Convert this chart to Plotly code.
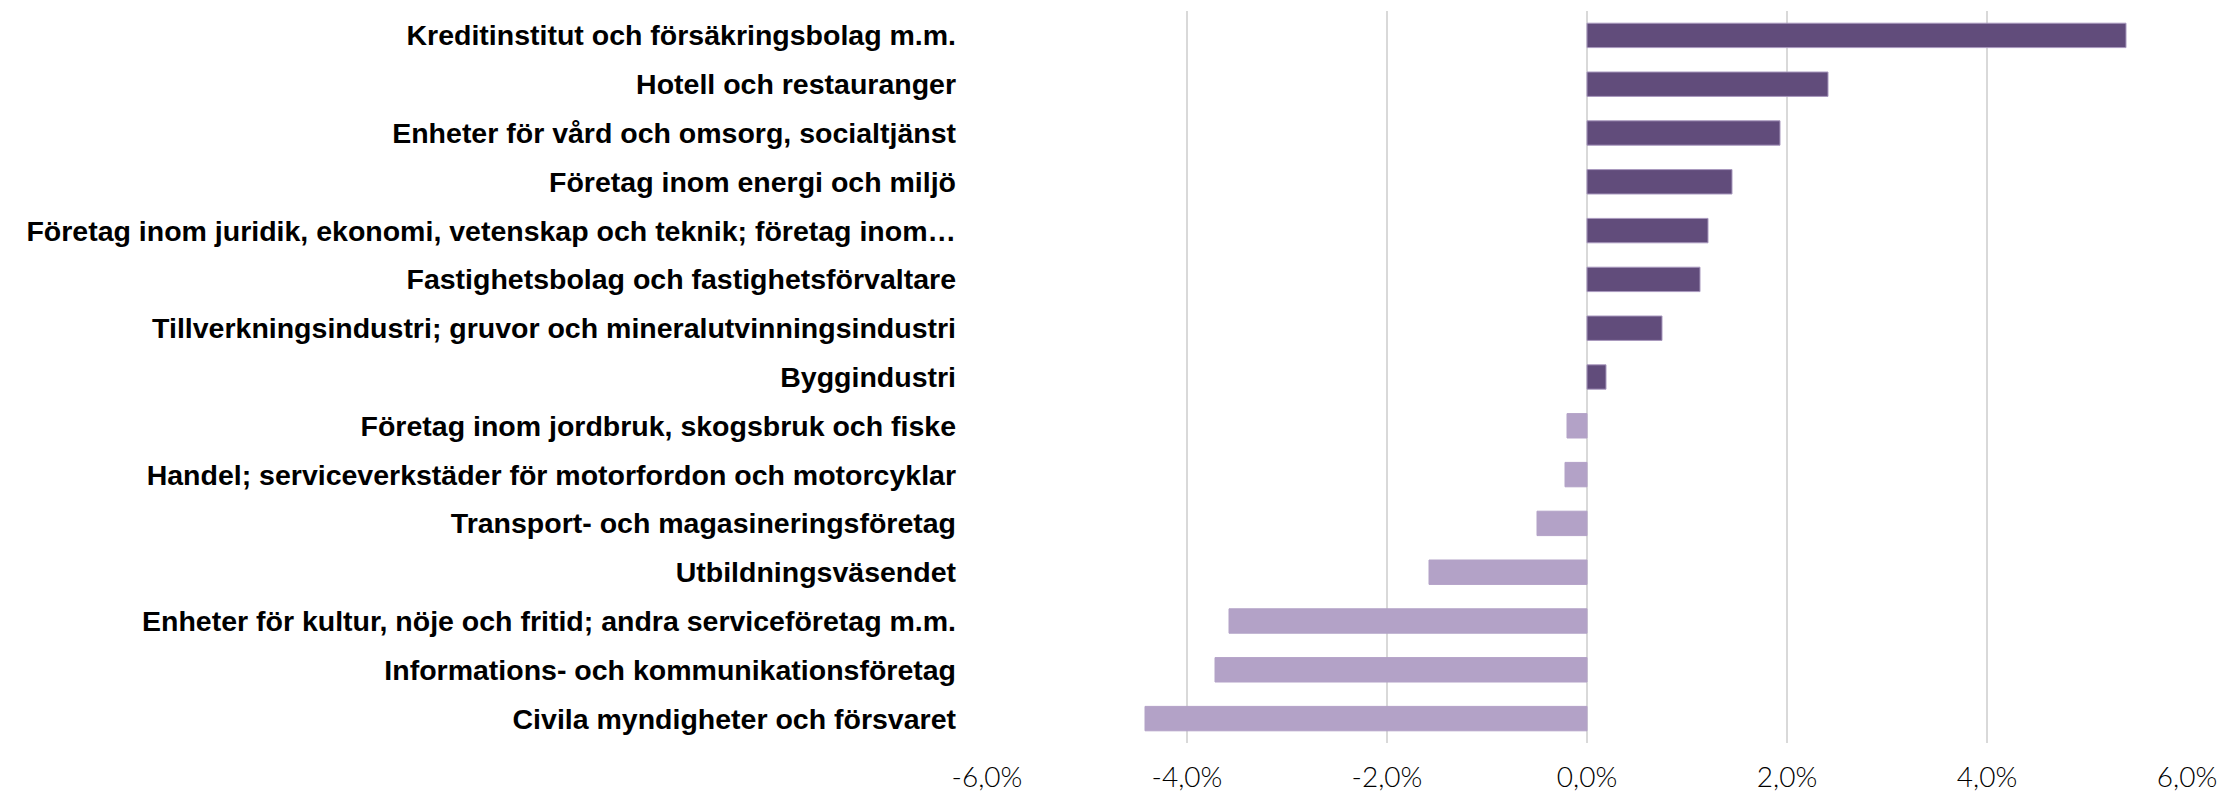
import plotly.graph_objects as go

categories = [
    "Kreditinstitut och försäkringsbolag m.m.",
    "Hotell och restauranger",
    "Enheter för vård och omsorg, socialtjänst",
    "Företag inom energi och miljö",
    "Företag inom juridik, ekonomi, vetenskap och teknik; företag inom…",
    "Fastighetsbolag och fastighetsförvaltare",
    "Tillverkningsindustri; gruvor och mineralutvinningsindustri",
    "Byggindustri",
    "Företag inom jordbruk, skogsbruk och fiske",
    "Handel; serviceverkstäder för motorfordon och motorcyklar",
    "Transport- och magasineringsföretag",
    "Utbildningsväsendet",
    "Enheter för kultur, nöje och fritid; andra serviceföretag m.m.",
    "Informations- och kommunikationsföretag",
    "Civila myndigheter och försvaret",
]
values = [5.39, 2.41, 1.93, 1.45, 1.21, 1.13, 0.75, 0.19,
          -0.20, -0.22, -0.50, -1.58, -3.58, -3.72, -4.42]
tick_vals = [-6, -4, -2, 0, 2, 4, 6]
tick_text = ["-6,0%", "-4,0%", "-2,0%", "0,0%", "2,0%", "4,0%", "6,0%"]

POS_COLOR = "#614C7B"
NEG_COLOR = "#B3A2C7"
colors = [POS_COLOR if v >= 0 else NEG_COLOR for v in values]
line_colors = ["#A898BE" if v >= 0 else NEG_COLOR for v in values]

fig = go.Figure(go.Bar(
    x=values,
    y=categories,
    orientation="h",
    marker=dict(color=colors, line=dict(color=line_colors, width=1)),
    hoverinfo="x+y",
))

fig.update_layout(
    width=2240,
    height=794,
    margin=dict(l=987, r=53, t=11, b=51),
    plot_bgcolor="white",
    paper_bgcolor="white",
    bargap=0.5,
    showlegend=False,
    xaxis=dict(
        range=[-6, 6],
        tickvals=tick_vals,
        ticktext=tick_text,
        automargin=False,
        showgrid=True,
        gridcolor="#D9D9D9",
        gridwidth=2,
        zeroline=True,
        zerolinecolor="#D9D9D9",
        zerolinewidth=2,
        showline=False,
        ticks="",
        ticklabelstandoff=15,
        tickfont=dict(family="Lato, Century Gothic, sans-serif", size=28, color="#000000", weight=300),
    ),
    yaxis=dict(
        categoryorder="array",
        categoryarray=categories,
        autorange="reversed",
        automargin=False,
        showgrid=False,
        zeroline=False,
        showline=False,
        ticks="",
        ticklabelstandoff=30,
        tickfont=dict(family="Century Gothic, Liberation Sans, Arial, sans-serif", size=28.5, color="#000000", weight="bold"),
    ),
)

fig.write_html(
    "out.html",
    config={"displayModeBar": False},
    post_script="document.body.style.margin='0';document.body.style.padding='0';document.body.style.overflow='hidden';",
)
